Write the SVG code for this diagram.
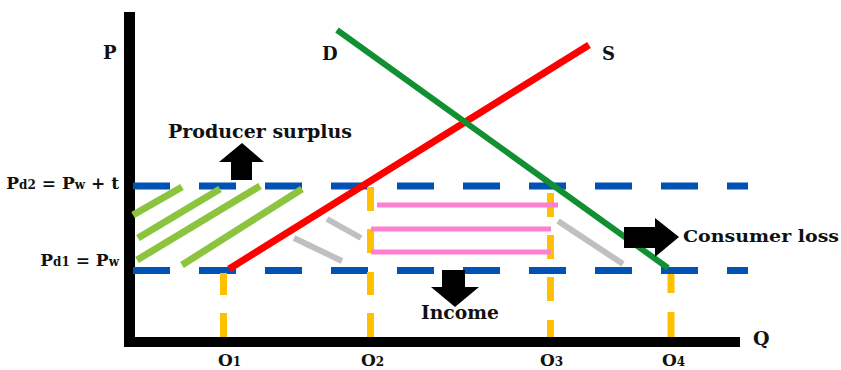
<svg xmlns="http://www.w3.org/2000/svg" width="841" height="370" viewBox="0 0 841 370">
<style>
text{font-family:"DejaVu Serif","Liberation Serif",serif;font-weight:bold;fill:#111}
.axis{stroke:#000;fill:none}
.blue{stroke:#0052b4;stroke-width:7;stroke-dasharray:37 29;fill:none}
.yel{stroke:#ffc000;stroke-width:7;fill:none}
.lg{stroke:#8cc43f;stroke-width:7;stroke-linecap:butt}
.gray{stroke:#c0c0c0;stroke-width:6}
.pink{stroke:#ff80d0;stroke-width:5}
.arrow{fill:#000}
.sub{font-size:12px}
</style>
<rect width="841" height="370" fill="#fff"/>
<g id="axes">
<line class="axis" x1="129.5" y1="12" x2="129.5" y2="347" stroke-width="11"/>
<line class="axis" x1="124" y1="342" x2="740" y2="342" stroke-width="10"/>
</g>
<g id="price-lines">
<line class="blue" x1="133" y1="186" x2="748" y2="186"/>
<line class="blue" x1="133" y1="270.5" x2="748" y2="270.5"/>
</g>
<g id="quantity-lines">
<path class="yel" d="M223.5 273V295M223.5 313V337"/>
<path class="yel" d="M370.5 187V211M370.5 229V253M370.5 272V295M370.5 313V337"/>
<path class="yel" d="M550.5 193V217M550.5 235V259M550.5 277V301M550.5 320V337"/>
<path class="yel" d="M671 274V293M671 312V337"/>
</g>
<g id="producer-surplus-hatch">
<line class="lg" x1="133" y1="215" x2="182" y2="187"/>
<line class="lg" x1="138" y1="238" x2="220" y2="189"/>
<line class="lg" x1="137" y1="260" x2="260" y2="186"/>
<line class="lg" x1="182" y1="265" x2="302" y2="189"/>
</g>
<g id="loss-hatch">
<line class="gray" x1="327" y1="219" x2="361" y2="238"/>
<line class="gray" x1="294" y1="238" x2="342" y2="261"/>
<line class="gray" x1="558" y1="221" x2="623" y2="264"/>
</g>
<g id="income-hatch">
<line class="pink" x1="377" y1="205" x2="558" y2="205"/>
<line class="pink" x1="371" y1="229" x2="551" y2="229"/>
<line class="pink" x1="371" y1="252" x2="551" y2="252"/>
</g>
<g id="supply">
<line x1="229" y1="269" x2="589" y2="45" stroke="#ff0000" stroke-width="7"/>
</g>
<g id="demand">
<line x1="337" y1="30" x2="668" y2="268" stroke="#109030" stroke-width="6"/>
</g>
<g id="arrows">
<polygon class="arrow" points="242,143 264,162 252,162 252,180 231,180 231,162 219,162"/>
<polygon class="arrow" points="442,270 465,270 465,287 479,287 455,307 431,287 442,287"/>
<polygon class="arrow" points="624,227 655,227 655,218 679,237 655,257 655,248 624,248"/>
</g>
<g id="labels">
<text x="103" y="59" font-size="18">P</text>
<text x="322" y="60" font-size="18">D</text>
<text x="602" y="60" font-size="18">S</text>
<text x="753" y="345" font-size="19">Q</text>
<text x="168" y="138" font-size="18" textLength="184" lengthAdjust="spacingAndGlyphs">Producer surplus</text>
<text x="683" y="242" font-size="17" textLength="156" lengthAdjust="spacingAndGlyphs">Consumer loss</text>
<text x="421" y="319" font-size="18" textLength="78" lengthAdjust="spacingAndGlyphs">Income</text>
<text x="119" y="189" font-size="17" text-anchor="end">P<tspan class="sub">d2</tspan> = P<tspan class="sub">w</tspan> + t</text>
<text x="119" y="266" font-size="17" text-anchor="end">P<tspan class="sub">d1</tspan> = P<tspan class="sub">w</tspan></text>
<text x="218" y="366" font-size="17">O<tspan class="sub">1</tspan></text>
<text x="361" y="366" font-size="17">O<tspan class="sub">2</tspan></text>
<text x="540" y="366" font-size="17">O<tspan class="sub">3</tspan></text>
<text x="662" y="366" font-size="17">O<tspan class="sub">4</tspan></text>
</g>
</svg>
